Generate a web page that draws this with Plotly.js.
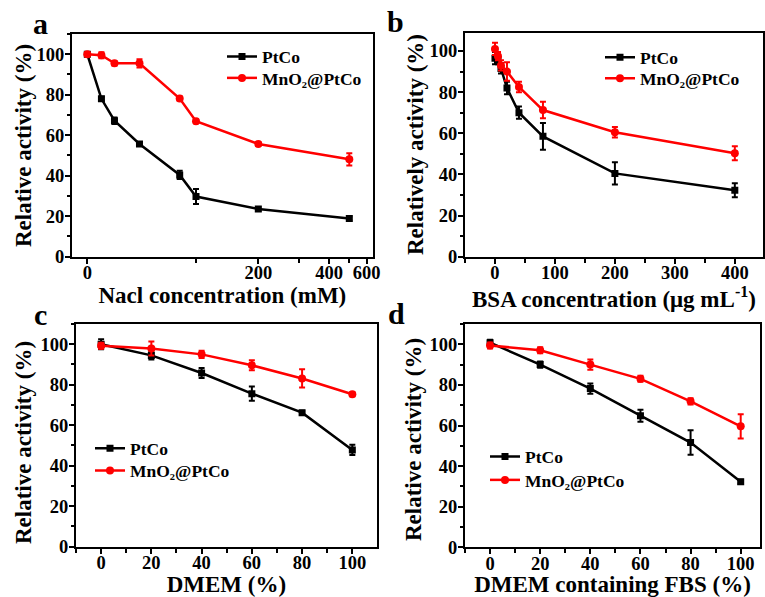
<!DOCTYPE html>
<html>
<head>
<meta charset="utf-8">
<script src="https://cdn.plot.ly/plotly-3.0.1.min.js"></script>
<style>html,body{margin:0;padding:0;background:#fff;}#chart{width:765px;height:597px;}</style>
</head>
<body>
<div id="chart"></div>
<script>
// ---------- DATA ----------
// Panel a: NaCl concentration (mM)
const naclConc   = [0, 13, 25, 48, 85, 100, 200, 500];
const naclPtCo   = [100, 78, 67.2, 55.7, 40.4, 29.7, 23.6, 18.9];
const naclPtCoErr= [1, 1, 1.6, 1, 2, 3.7, 1, 1];
const naclMn     = [100, 99.5, 95.5, 95.5, 78.1, 66.9, 55.7, 48.1];
const naclMnErr  = [1, 1.5, 1, 2, 1, 1, 1, 3];
const naclTickLabels = ['0', '200', '400', '600'];

// Panel b: BSA concentration (ug/mL)
const bsaConc    = [0, 5, 10, 20, 40, 80, 200, 400];
const bsaPtCo    = [96.5, 95.5, 91.5, 82, 70, 58.5, 40.5, 32.3];
const bsaPtCoErr = [3, 2, 2.5, 3, 3, 6.5, 5.4, 3.4];
const bsaMn      = [101, 97.5, 93, 90, 82.5, 71.3, 60.5, 50.3];
const bsaMnErr   = [3, 2, 2.5, 4.5, 2.5, 4, 2.5, 3.4];

// Panel c: DMEM (%)
const dmem       = [0, 20, 40, 60, 80, 100];
const dmemPtCo   = [100, 94.5, 85.8, 75.6, 66.2, 47.8];
const dmemPtCoErr= [2.5, 2, 2.5, 3.5, 1, 2.5];
const dmemMn     = [99.3, 97.9, 95, 89.6, 83.1, 75.3];
const dmemMnErr  = [1.5, 3.5, 1.8, 2.5, 4.5, 1];

// Panel d: DMEM containing FBS (%)
const fbs        = [0, 20, 40, 60, 80, 100];
const fbsPtCo    = [100.8, 90, 78.2, 64.8, 51.6, 32.3];
const fbsPtCoErr = [1.5, 1.5, 2.5, 3, 6, 1];
const fbsMn      = [99.4, 97.1, 90, 83, 71.9, 59.6];
const fbsMnErr   = [1.5, 1.5, 2.5, 1.5, 1.5, 6];

const seriesNames = ['PtCo', 'MnO₂@PtCo'];
const yTitles = ['Relative activity (%)', 'Relatively activity (%)', 'Relative activity (%)', 'Relative activity (%)'];

// ---------- broken (non-linear) NaCl axis scale ----------
const naclScaleReal = [0, 100, 200, 300, 400, 500, 600];
const naclScalePos  = [0, 108.7, 171, 211.7, 241.7, 262, 279.4];
function naclMap(v) {
  for (let i = 0; i < naclScaleReal.length - 1; i++) {
    const a = naclScaleReal[i], b = naclScaleReal[i + 1];
    if (v <= b) {
      return naclScalePos[i] + (v - a) / (b - a) * (naclScalePos[i + 1] - naclScalePos[i]);
    }
  }
  return naclScalePos[naclScalePos.length - 1];
}

// ---------- STYLE ----------
const FONT = '"Liberation Serif", "Times New Roman", serif';
const W = 765, H = 597;
const px = v => v / W;
const py = v => 1 - v / H;
const BLACK = '#000000', RED = '#ff0000';

function mkTrace(x, y, err, idx, xa, ya, leg) {
  const col = idx === 0 ? BLACK : RED;
  return {
    x: x, y: y, type: 'scatter', mode: 'lines+markers',
    name: seriesNames[idx], xaxis: xa, yaxis: ya, legend: leg, showlegend: true,
    line: {color: col, width: 2.5},
    marker: {color: col, size: idx === 0 ? 7 : 8, symbol: idx === 0 ? 'square' : 'circle'},
    error_y: {type: 'data', array: err, visible: true, color: col, thickness: 2, width: 3}
  };
}

const traces = [
  mkTrace(naclConc.map(naclMap), naclPtCo, naclPtCoErr, 0, 'x', 'y', 'legend'),
  mkTrace(naclConc.map(naclMap), naclMn, naclMnErr, 1, 'x', 'y', 'legend2'),
  mkTrace(bsaConc, bsaPtCo, bsaPtCoErr, 0, 'x2', 'y2', 'legend3'),
  mkTrace(bsaConc, bsaMn, bsaMnErr, 1, 'x2', 'y2', 'legend4'),
  mkTrace(dmem, dmemPtCo, dmemPtCoErr, 0, 'x3', 'y3', 'legend5'),
  mkTrace(dmem, dmemMn, dmemMnErr, 1, 'x3', 'y3', 'legend6'),
  mkTrace(fbs, fbsPtCo, fbsPtCoErr, 0, 'x4', 'y4', 'legend7'),
  mkTrace(fbs, fbsMn, fbsMnErr, 1, 'x4', 'y4', 'legend8')
];

const tickFont = {family: FONT, size: 18.5, color: BLACK, weight: 'bold'};
const titleFont = {family: FONT, size: 23, color: BLACK, weight: 'bold'};

function axisBase(extra) {
  return Object.assign({
    showline: true, linecolor: BLACK, linewidth: 2, mirror: true,
    showgrid: false, zeroline: false,
    ticks: 'outside', ticklen: 5, tickwidth: 2, tickcolor: BLACK,
    tickfont: tickFont, automargin: false, fixedrange: true
  }, extra);
}

function xAxis(extra) {
  return axisBase(Object.assign({ticklabelstandoff: -7}, extra));
}

function yAxis(domain, range, anchor) {
  return axisBase({
    domain: domain, range: range, anchor: anchor,
    tickmode: 'linear', tick0: 0, dtick: 20,
    minor: {ticks: 'outside', ticklen: 3, tickwidth: 2, tickcolor: BLACK, dtick: 10, tick0: 0},
    ticklabelstandoff: -3
  });
}

const legendBase = {
  bgcolor: 'rgba(0,0,0,0)', borderwidth: 0,
  font: {family: FONT, size: 17.5, color: BLACK, weight: 'bold'},
  itemwidth: 30, xanchor: 'left', yanchor: 'top', tracegroupgap: 0
};
function leg(x, y) { return Object.assign({}, legendBase, {x: px(x), y: py(y)}); }

function textAnn(text, x, y, size, angle) {
  return {text: text, x: px(x), y: py(y), xref: 'paper', yref: 'paper', showarrow: false,
          xanchor: 'center', yanchor: 'middle', textangle: angle || 0,
          font: {family: FONT, size: size, color: BLACK, weight: 'bold'}};
}

const layout = {
  width: W, height: H,
  margin: {l: 0, r: 0, t: 0, b: 0},
  paper_bgcolor: '#ffffff', plot_bgcolor: '#ffffff',
  font: {family: FONT, color: BLACK},
  // Panel a
  xaxis: xAxis({
    domain: [px(72), px(372.7)], anchor: 'y',
    range: [-15.3, 285.4],
    tickmode: 'array',
    tickvals: [0, 200, 400, 600].map(naclMap),
    ticktext: naclTickLabels,
    minor: {ticks: 'outside', ticklen: 4, tickwidth: 2, tickcolor: BLACK, tickmode: 'array', tickvals: [100, 300, 500].map(naclMap)},
    title: {text: 'Nacl concentration (mM)', font: titleFont, standoff: 0}
  }),
  yaxis: yAxis([py(256.7), py(34)], [0, 110], 'x'),
  // Panel b
  xaxis2: xAxis({
    domain: [px(465), px(763)], anchor: 'y2',
    range: [-50, 447],
    tickmode: 'linear', tick0: 0, dtick: 100,
    minor: {ticks: 'outside', ticklen: 4, tickwidth: 2, tickcolor: BLACK, dtick: 50, tick0: 0},
    title: {text: 'BSA concentration (μg mL<sup>-1</sup>)', font: titleFont, standoff: 0}
  }),
  yaxis2: yAxis([py(256.7), py(33.3)], [0, 108.6], 'x2'),
  // Panel c
  xaxis3: xAxis({
    domain: [px(76), px(376.7)], anchor: 'y3',
    range: [-10, 109.7],
    tickmode: 'linear', tick0: 0, dtick: 20,
    minor: {ticks: 'outside', ticklen: 4, tickwidth: 2, tickcolor: BLACK, dtick: 10, tick0: 0},
    title: {text: 'DMEM (%)', font: titleFont, standoff: 0}
  }),
  yaxis3: yAxis([py(546.7), py(324)], [0, 110], 'x3'),
  // Panel d
  xaxis4: xAxis({
    domain: [px(465), px(760)], anchor: 'y4',
    range: [-10, 107.7],
    tickmode: 'linear', tick0: 0, dtick: 20,
    minor: {ticks: 'outside', ticklen: 4, tickwidth: 2, tickcolor: BLACK, dtick: 10, tick0: 0},
    title: {text: 'DMEM containing FBS (%)', font: titleFont, standoff: 0}
  }),
  yaxis4: yAxis([py(547.3), py(324)], [0, 110], 'x4'),
  legend:  leg(222, 38.5),
  legend2: leg(222, 60),
  legend3: leg(600, 39.3),
  legend4: leg(600, 60.3),
  legend5: leg(90, 430.3),
  legend6: leg(90, 452.7),
  legend7: leg(485, 438.7),
  legend8: leg(485, 462),
  annotations: [
    textAnn('a', 40, 24, 30),
    textAnn('b', 395, 22, 30),
    textAnn('c', 40, 314, 30),
    textAnn('d', 396, 313, 30),
    textAnn(yTitles[0], 23, 146, 23, -90),
    textAnn(yTitles[1], 416, 144, 23, -90),
    textAnn(yTitles[2], 23, 443, 23, -90),
    textAnn(yTitles[3], 413, 440, 23, -90)
  ]
};

Plotly.newPlot('chart', traces, layout, {displayModeBar: false, staticPlot: true});
</script>
</body>
</html>
